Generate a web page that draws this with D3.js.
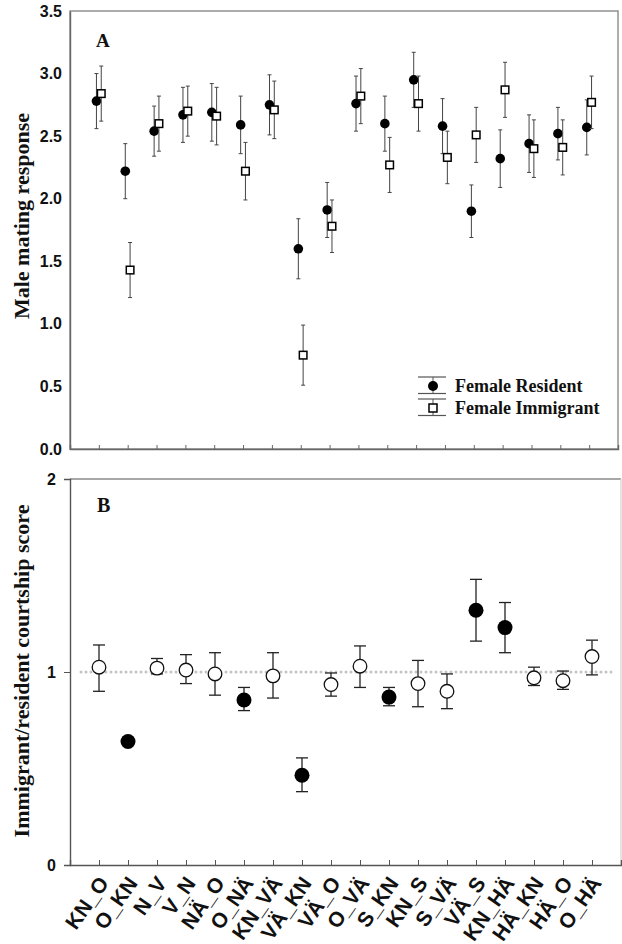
<!DOCTYPE html>
<html>
<head>
<meta charset="utf-8">
<script src="https://cdn.jsdelivr.net/npm/d3@7"></script>
<style>
  html, body { margin: 0; padding: 0; background: #fff; }
  svg { display: block; }
  .tick-label { font-family: "Liberation Sans", Arial, sans-serif; font-weight: bold; fill: #111; }
  .axis-title { font-family: "Liberation Serif", "Times New Roman", serif; font-weight: bold; font-size: 22px; fill: #111; }
  .panel-label { font-family: "Liberation Serif", "Times New Roman", serif; font-weight: bold; fill: #111; }
  .legend-text { font-family: "Liberation Serif", "Times New Roman", serif; font-weight: bold; font-size: 18px; fill: #111; }
</style>
</head>
<body>
<div id="chart"></div>
<script>
const categories = ['KN_O', 'O_KN', 'N_V', 'V_N', 'NÄ_O', 'O_NÄ', 'KN_VÄ', 'VÄ_KN', 'VÄ_O',
  'O_VÄ', 'S_KN', 'KN_S', 'S_VÄ', 'VÄ_S', 'KN_HÄ', 'HÄ_KN', 'HÄ_O', 'O_HÄ'];

// panel A: male mating response (mean and half-width of error bar)
const residentMean = [2.78, 2.22, 2.54, 2.67, 2.69, 2.59, 2.75, 1.60, 1.91, 2.76, 2.60, 2.95, 2.58, 1.90, 2.32, 2.44, 2.52, 2.57];
const residentErr = [0.22, 0.22, 0.20, 0.22, 0.23, 0.23, 0.24, 0.24, 0.22, 0.22, 0.22, 0.22, 0.22, 0.21, 0.23, 0.23, 0.21, 0.22];
const immigrantMean = [2.84, 1.43, 2.60, 2.70, 2.66, 2.22, 2.71, 0.75, 1.78, 2.82, 2.27, 2.76, 2.33, 2.51, 2.87, 2.40, 2.41, 2.77];
const immigrantErr = [0.22, 0.22, 0.22, 0.20, 0.23, 0.23, 0.23, 0.24, 0.21, 0.22, 0.22, 0.22, 0.21, 0.22, 0.22, 0.23, 0.22, 0.21];
const ticksA = [0, 0.5, 1.0, 1.5, 2.0, 2.5, 3.0, 3.5];

// panel B: immigrant/resident courtship score
const ratioMean = [1.025, 0.64, 1.02, 1.01, 0.99, 0.855, 0.98, 0.465, 0.935, 1.03, 0.87, 0.94, 0.90, 1.32, 1.23, 0.97, 0.955, 1.08];
const ratioLow = [0.90, 0.64, 0.99, 0.94, 0.88, 0.80, 0.865, 0.38, 0.875, 0.92, 0.825, 0.82, 0.81, 1.16, 1.10, 0.93, 0.91, 0.985];
const ratioHigh = [1.14, 0.64, 1.07, 1.09, 1.10, 0.92, 1.10, 0.555, 0.995, 1.135, 0.92, 1.06, 0.99, 1.48, 1.36, 1.025, 1.005, 1.165];
const ratioSignificant = [0, 1, 0, 0, 0, 1, 0, 1, 0, 0, 1, 0, 0, 1, 1, 0, 0, 0];
const ticksB = [0, 1, 2];

const width = 622;
const height = 944;

const svg = d3.select('#chart').append('svg')
  .attr('width', width)
  .attr('height', height);

// ---------- panel A ----------
const a = { left: 70, right: 618, top: 11, bottom: 449 };
const xA = d3.scalePoint().domain(categories).range([a.left, a.right]).padding(1);
const yA = d3.scaleLinear().domain([0, 3.5]).range([a.bottom, a.top]);

const gA = svg.append('g');

gA.append('rect')
  .attr('x', a.left).attr('y', a.top)
  .attr('width', a.right - a.left).attr('height', a.bottom - a.top)
  .attr('fill', 'none').attr('stroke', '#8a8a8a').attr('stroke-width', 1.4);

const axisAy = gA.append('g')
  .attr('transform', `translate(${a.left},0)`)
  .call(d3.axisLeft(yA).tickValues(ticksA).tickFormat(d3.format('.1f')).tickSize(0).tickPadding(8));
axisAy.select('.domain').attr('stroke', '#666').attr('stroke-width', 1.4);
axisAy.selectAll('text').attr('class', 'tick-label').style('font-size', '16px');

const axisAx = gA.append('g')
  .attr('transform', `translate(0,${a.bottom})`)
  .call(d3.axisBottom(xA).tickSize(-4).tickFormat(''));
axisAx.select('.domain').attr('stroke', '#666').attr('stroke-width', 1.4);
axisAx.selectAll('.tick line').attr('stroke', '#666');

gA.append('text')
  .attr('class', 'axis-title')
  .attr('transform', `translate(29,${(a.top + a.bottom) / 2 - 14}) rotate(-90)`)
  .attr('text-anchor', 'middle')
  .text('Male mating response');

gA.append('text')
  .attr('class', 'panel-label')
  .attr('x', 96).attr('y', 47)
  .attr('font-size', 19)
  .text('A');

const offset = 2.4;
const seriesA = [
  { name: 'Female Resident', mean: residentMean, err: residentErr, dx: -offset, shape: 'circle' },
  { name: 'Female Immigrant', mean: immigrantMean, err: immigrantErr, dx: offset, shape: 'square' }
];

seriesA.forEach((s) => {
  const rows = categories.map((c, i) => ({ c, m: s.mean[i], e: s.err[i] }));
  const g = gA.append('g');
  const bars = g.selectAll('g.bar').data(rows).join('g').attr('class', 'bar')
    .attr('stroke', '#444').attr('stroke-width', 1);
  bars.append('line')
    .attr('x1', (d) => xA(d.c) + s.dx).attr('x2', (d) => xA(d.c) + s.dx)
    .attr('y1', (d) => yA(d.m - d.e)).attr('y2', (d) => yA(d.m + d.e));
  bars.append('line')
    .attr('x1', (d) => xA(d.c) + s.dx - 2).attr('x2', (d) => xA(d.c) + s.dx + 2)
    .attr('y1', (d) => yA(d.m + d.e)).attr('y2', (d) => yA(d.m + d.e));
  bars.append('line')
    .attr('x1', (d) => xA(d.c) + s.dx - 2).attr('x2', (d) => xA(d.c) + s.dx + 2)
    .attr('y1', (d) => yA(d.m - d.e)).attr('y2', (d) => yA(d.m - d.e));

  if (s.shape === 'circle') {
    g.selectAll('circle').data(rows).join('circle')
      .attr('cx', (d) => xA(d.c) + s.dx).attr('cy', (d) => yA(d.m))
      .attr('r', 4.8).attr('fill', '#000');
  } else {
    g.selectAll('rect').data(rows).join('rect')
      .attr('x', (d) => xA(d.c) + s.dx - 3.8).attr('y', (d) => yA(d.m) - 3.8)
      .attr('width', 7.6).attr('height', 7.6)
      .attr('fill', '#fff').attr('stroke', '#000').attr('stroke-width', 1.5);
  }
});

// legend
const legend = gA.append('g').attr('transform', 'translate(433,386)');
seriesA.forEach((s, i) => {
  const row = legend.append('g').attr('transform', `translate(0,${i * 22})`);
  row.append('line').attr('x1', -15).attr('x2', 13).attr('y1', -9).attr('y2', -9).attr('stroke', '#555').attr('stroke-width', 1.2);
  row.append('line').attr('x1', -15).attr('x2', 13).attr('y1', 7.5).attr('y2', 7.5).attr('stroke', '#555').attr('stroke-width', 1.2);
  row.append('line').attr('x1', 0).attr('x2', 0).attr('y1', -9).attr('y2', 7.5).attr('stroke', '#555').attr('stroke-width', 1);
  if (s.shape === 'circle') {
    row.append('circle').attr('r', 5).attr('fill', '#000');
  } else {
    row.append('rect').attr('x', -4).attr('y', -4).attr('width', 8).attr('height', 8)
      .attr('fill', '#fff').attr('stroke', '#000').attr('stroke-width', 1.5);
  }
  row.append('text').attr('class', 'legend-text')
    .attr('x', 22).attr('y', 6)
    .text(s.name);
});

// ---------- panel B ----------
const b = { left: 70, right: 621, top: 479, bottom: 865 };
const xB = d3.scalePoint().domain(categories).range([b.left, b.right]).padding(1);
const yB = d3.scaleLinear().domain([0, 2]).range([b.bottom, b.top]);

const gB = svg.append('g');

gB.append('line').attr('x1', b.left).attr('x2', b.right).attr('y1', b.top).attr('y2', b.top)
  .attr('stroke', '#8a8a8a').attr('stroke-width', 1.4);
gB.append('line').attr('x1', b.right).attr('x2', b.right).attr('y1', b.top).attr('y2', b.bottom)
  .attr('stroke', '#d8d8d8').attr('stroke-width', 1.4);

const axisBy = gB.append('g')
  .attr('transform', `translate(${b.left},0)`)
  .call(d3.axisLeft(yB).tickValues(ticksB).tickFormat(d3.format('d')).tickSize(6).tickPadding(8));
axisBy.select('.domain').attr('stroke', '#555').attr('stroke-width', 1.4);
axisBy.selectAll('.tick line').attr('stroke', '#555');
axisBy.selectAll('text').attr('class', 'tick-label').style('font-size', '16px');

const axisBx = gB.append('g')
  .attr('transform', `translate(0,${b.bottom})`)
  .call(d3.axisBottom(xB).tickSize(-5).tickPadding(0));
axisBx.select('.domain').attr('stroke', '#555').attr('stroke-width', 1.4);
axisBx.selectAll('.tick line').attr('stroke', '#555');
axisBx.selectAll('text')
  .attr('class', 'tick-label')
  .style('font-size', '21px')
  .attr('text-anchor', 'end')
  .attr('x', 0)
  .attr('y', 0)
  .attr('dy', '0.35em')
  .attr('transform', 'translate(4,14) rotate(-55)');

// reference line at 1
gB.append('line')
  .attr('x1', 81).attr('x2', 616)
  .attr('y1', yB(1)).attr('y2', yB(1))
  .attr('stroke', '#c4c4c4').attr('stroke-width', 3)
  .attr('stroke-linecap', 'round')
  .attr('stroke-dasharray', '0 5');

gB.append('text')
  .attr('class', 'axis-title')
  .attr('transform', `translate(29,${(b.top + b.bottom) / 2 - 1}) rotate(-90)`)
  .attr('text-anchor', 'middle')
  .text('Immigrant/resident courtship score');

gB.append('text')
  .attr('class', 'panel-label')
  .attr('x', 97).attr('y', 512)
  .attr('font-size', 20)
  .text('B');

const rowsB = categories.map((c, i) => ({
  c, m: ratioMean[i], lo: ratioLow[i], hi: ratioHigh[i], sig: ratioSignificant[i]
}));

const barsB = gB.append('g').selectAll('g').data(rowsB.filter((d) => d.hi > d.lo)).join('g')
  .attr('stroke', '#222').attr('stroke-width', 1.3);
barsB.append('line')
  .attr('x1', (d) => xB(d.c)).attr('x2', (d) => xB(d.c))
  .attr('y1', (d) => yB(d.lo)).attr('y2', (d) => yB(d.hi));
barsB.append('line')
  .attr('x1', (d) => xB(d.c) - 6).attr('x2', (d) => xB(d.c) + 6)
  .attr('y1', (d) => yB(d.hi)).attr('y2', (d) => yB(d.hi));
barsB.append('line')
  .attr('x1', (d) => xB(d.c) - 6).attr('x2', (d) => xB(d.c) + 6)
  .attr('y1', (d) => yB(d.lo)).attr('y2', (d) => yB(d.lo));

gB.append('g').selectAll('circle').data(rowsB).join('circle')
  .attr('cx', (d) => xB(d.c)).attr('cy', (d) => yB(d.m))
  .attr('r', (d) => (d.sig ? 7.5 : 6.8))
  .attr('fill', (d) => (d.sig ? '#000' : '#fff'))
  .attr('stroke', '#111')
  .attr('stroke-width', (d) => (d.sig ? 0 : 1.3));
</script>
</body>
</html>
